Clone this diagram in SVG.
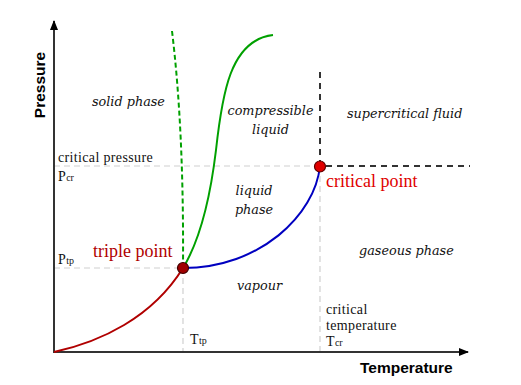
<svg xmlns="http://www.w3.org/2000/svg" width="521" height="385" viewBox="0 0 521 385">
<style>
.lbl{font-family:"Liberation Serif","Times New Roman",serif;font-size:14px;letter-spacing:0.35px;fill:#111}
.sub{font-size:10px;letter-spacing:0}
.ph{font-family:"DejaVu Serif",serif;font-style:italic;font-size:12.8px;fill:#111}
.red{font-family:"Liberation Serif","Times New Roman",serif;font-size:18px}
.ax{font-family:"Liberation Sans",Arial,sans-serif;font-weight:bold;font-size:15.5px;fill:#000}
.guide{fill:none;stroke:#d0d0d0;stroke-width:1.2;stroke-dasharray:6,4}
.dark{fill:none;stroke:#333;stroke-width:2;stroke-dasharray:6,5}
.axis{fill:none;stroke:#333;stroke-width:2}
</style>
<defs>
<marker id="arr" viewBox="0 0 10 8" refX="9" refY="4" markerWidth="10" markerHeight="8" markerUnits="userSpaceOnUse" orient="auto">
<path d="M0,0 L10,4 L0,8 Z" fill="#000"/>
</marker>
</defs>
<rect width="521" height="385" fill="#fff"/>
<g id="connectors">
<path class="guide" d="M54,166 H320"/>
<path class="guide" d="M320,166 V352"/>
<path class="guide" d="M54,268 H183"/>
<path class="guide" d="M183,268 V352"/>
<path class="dark" d="M320,72 V162"/>
<path class="dark" d="M326,166 H470"/>
<path class="axis" d="M54,353 V21" marker-end="url(#arr)"/>
<path class="axis" d="M53,352 H468" marker-end="url(#arr)"/>
<path id="sublimation" d="M54,352 C100,342 152,318 183,268" fill="none" stroke="#b00000" stroke-width="2"/>
<path id="vaporization" d="M183,268 C260,268 315,215 320,166" fill="none" stroke="#0000c0" stroke-width="2"/>
<path id="melting" d="M183,268 C200,240 210,200 216,150 C222,95 230,40 273,35" fill="none" stroke="#00a000" stroke-width="2"/>
<path id="melting-anom" d="M172,31 Q184,130 183,268" fill="none" stroke="#00a000" stroke-width="2" stroke-dasharray="5,3"/>
</g>
<g id="triple-point">
<circle cx="183" cy="268" r="5.5" fill="#a00000" stroke="#400000" stroke-width="1.2"/>
<text class="red" x="93" y="257" fill="#b00000">triple point</text>
</g>
<g id="critical-point">
<circle cx="320" cy="166.5" r="5.5" fill="#e00000" stroke="#600000" stroke-width="1.2"/>
<text class="red" x="326" y="187" fill="#e00000">critical point</text>
</g>
<g id="regions">
<text class="ph" x="92" y="106">solid phase</text>
<text class="ph" x="270.5" y="115" text-anchor="middle">compressible</text>
<text class="ph" x="270.5" y="134" text-anchor="middle">liquid</text>
<text class="ph" x="347" y="118">supercritical fluid</text>
<text class="ph" x="254" y="195" text-anchor="middle">liquid</text>
<text class="ph" x="254" y="214" text-anchor="middle">phase</text>
<text class="ph" x="359" y="255">gaseous phase</text>
<text class="ph" x="237" y="290">vapour</text>
</g>
<g id="axis-labels">
<text class="lbl" x="58" y="162">critical pressure</text>
<text class="lbl" x="58" y="181">P<tspan class="sub">cr</tspan></text>
<text class="lbl" x="58" y="264">P<tspan class="sub">tp</tspan></text>
<text class="lbl" x="190" y="344">T<tspan class="sub">tp</tspan></text>
<text class="lbl" x="326" y="314">critical</text>
<text class="lbl" x="326" y="330">temperature</text>
<text class="lbl" x="326" y="346">T<tspan class="sub">cr</tspan></text>
<text class="ax" x="360" y="373">Temperature</text>
<text class="ax" transform="translate(45,85) rotate(-90)" text-anchor="middle">Pressure</text>
</g>
</svg>
